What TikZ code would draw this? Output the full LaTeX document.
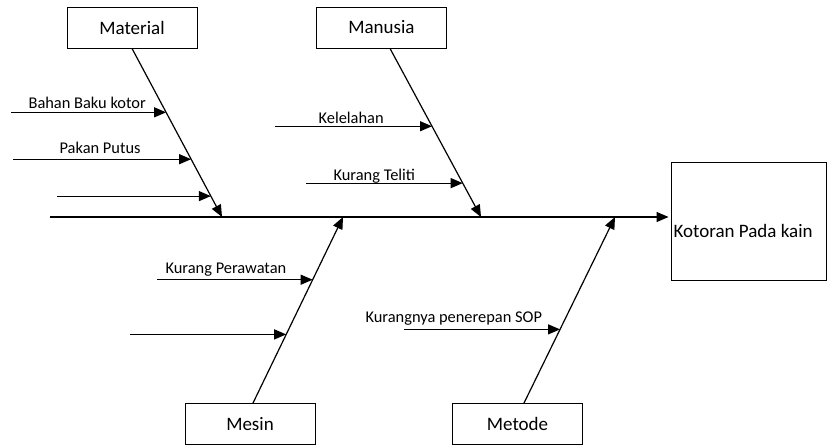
\documentclass[tikz,border=0pt]{standalone}
\usepackage{fontspec}
\setmainfont{Carlito}
\usetikzlibrary{arrows.meta, calc, positioning}

\begin{document}
\begin{tikzpicture}[x=1pt, y=-1pt, line width=1.2pt]

	\tikzstyle{catbox}=[draw=black, line width=0.9pt, minimum width=130pt, minimum height=41pt, font=\fontsize{19}{23}\selectfont]
	\tikzstyle{causetxt}=[anchor=base west, inner sep=0pt, font=\fontsize{16.4}{19}\selectfont]
	\tikzstyle{arr}=[-{Triangle[length=12pt, width=10pt]}]

	\useasboundingbox (0,0) rectangle (827,445);

	% kotak akibat dan kategori
	\node (akibat) at (748.5,221) [draw=black, line width=0.9pt, minimum width=155pt, minimum height=118pt] {};
	\node (akibattxt) at (673,231) [anchor=west, inner sep=0pt, font=\fontsize{19}{23}\selectfont] {Kotoran Pada kain};

	\node (mat) at (132,27.5) [catbox] {Material};
	\node (man) at (381.5,27.5) [catbox] {Manusia};
	\node (mes) at (250,424) [catbox] {Mesin};
	\node (met) at (517.5,424) [catbox] {Metode};

	% tulang utama
	\coordinate (sp0) at (50,217);
	\draw [arr, shorten >=2pt] (sp0) -- (sp0 -| akibat.west);

	% tulang kategori
	\coordinate (matA) at (mat.south);
	\coordinate (matB) at (222,217);
	\coordinate (manA) at ([xshift=8.5pt]man.south);
	\coordinate (manB) at (481,217);
	\coordinate (mesA) at ([xshift=3pt]mes.north);
	\coordinate (mesB) at (343,217);
	\coordinate (metA) at ([xshift=6.5pt]met.north);
	\coordinate (metB) at (615,217);

	\draw [arr] (matA) -- (matB);
	\draw [arr] (manA) -- (manB);
	\draw [arr] (mesA) -- (mesB);
	\draw [arr] (metA) -- (metB);

	% titik sebab pada tulang
	\coordinate (mat1) at ($(matA)!0.379!(matB)$);
	\coordinate (mat2) at ($(matA)!0.657!(matB)$);
	\coordinate (mat3) at ($(matA)!0.876!(matB)$);
	\coordinate (man1) at ($(manA)!0.4615!(manB)$);
	\coordinate (man2) at ($(manA)!0.799!(manB)$);
	\coordinate (mes1) at ($(mesA)!0.663!(mesB)$);
	\coordinate (mes2) at ($(mesA)!0.369!(mesB)$);
	\coordinate (met1) at ($(metA)!0.396!(metB)$);

	\draw [arr] (11,0 |- mat1) -- (mat1);
	\draw [arr] (13,0 |- mat2) -- (mat2);
	\draw [arr] (57,0 |- mat3) -- (mat3);
	\draw [arr] (275,0 |- man1) -- (man1);
	\draw [arr] (306,0 |- man2) -- (man2);
	\draw [arr] (157,0 |- mes1) -- (mes1);
	\draw [arr] (130,0 |- mes2) -- (mes2);
	\draw [arr] (404,0 |- met1) -- (met1);

	% label sebab
	\node (tmat1) at (28,108) [causetxt] {Bahan Baku kotor};
	\node (tmat2) at (59,153) [causetxt] {Pakan Putus};
	\node (tman1) at (318,123) [causetxt] {Kelelahan};
	\node (tman2) at (333,180) [causetxt] {Kurang Teliti};
	\node (tmes1) at (165,273) [causetxt] {Kurang Perawatan};
	\node (tmet1) at (365,322) [causetxt] {Kurangnya penerepan SOP};

\end{tikzpicture}
\end{document}
